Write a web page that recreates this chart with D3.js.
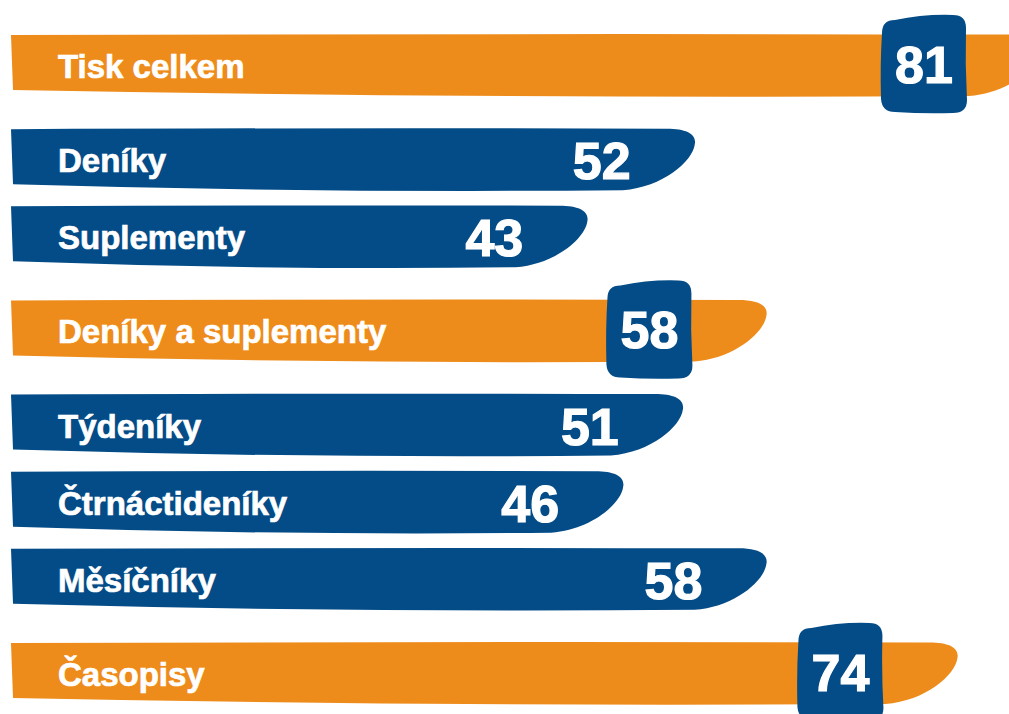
<!DOCTYPE html>
<html>
<head>
<meta charset="utf-8">
<script src="https://cdn.jsdelivr.net/npm/d3@7/dist/d3.min.js"></script>
<style>
  html, body { margin: 0; padding: 0; background: #ffffff; overflow: hidden; }
  svg { display: block; }
</style>
</head>
<body>
<svg id="chart" width="1009" height="714"></svg>
<script>
// ---- data ----
const categories = ["Tisk celkem", "Deníky", "Suplementy", "Deníky a suplementy",
                    "Týdeníky", "Čtrnáctideníky", "Měsíčníky", "Časopisy"];
const values = [81, 52, 43, 58, 51, 46, 58, 74];
const isTotal = [true, false, false, true, false, false, false, true];

// ---- style ----
const BLUE = "#044C87";
const ORANGE = "#EE8C1B";
const FONT = "'Liberation Sans', Arial, sans-serif";

const svg = d3.select("#chart");

// vertical slots: rows next to a total row get a wider gap
const slot = [0];
for (let i = 1; i < categories.length; i++) {
  slot.push(slot[i - 1] + ((isTotal[i] || isTotal[i - 1]) ? 1.22 : 1));
}
const y = d3.scaleLinear().domain([0, slot[slot.length - 1]]).range([35, 643]);
const x = d3.scaleLinear().domain([0, 81]).range([74, 1041]);

const rows = categories.map((c, i) => ({ cat: c, val: values[i], total: isTotal[i], top: y(slot[i]) }));

function barPath(t, L) {
  const x0 = 11;
  return `M${x0},${t}` +
    ` Q${(x0 + L) / 2},${t - 1.5} ${L - 28},${t - 0.5}` +
    ` C${L - 8},${t - 0.5} ${L + 2},${t + 5} ${L},${t + 15}` +
    ` C${L - 2},${t + 32} ${L - 32},${t + 58} ${L - 72},${t + 61}` +
    ` Q${(L - 72 + x0) / 2},${t + 64} ${x0 + 2},${t + 55}` +
    ` Z`;
}

function badgePath(cx, top, bot) {
  const l = cx - 42, r = cx + 42, rr = 13;
  return `M${l + rr},${top + 5}` +
    ` Q${cx},${top - 1} ${r - rr},${top}` +
    ` Q${r},${top} ${r},${top + rr}` +
    ` Q${r - 1},${(top + bot) / 2} ${r + 1},${bot - rr}` +
    ` Q${r + 1},${bot} ${r - rr},${bot}` +
    ` Q${cx},${bot + 1} ${l + rr},${bot - 1}` +
    ` Q${l},${bot - 1} ${l - 1},${bot - rr - 1}` +
    ` Q${l - 2},${(top + bot) / 2} ${l},${top + rr + 5}` +
    ` Q${l},${top + 5} ${l + rr},${top + 5} Z`;
}

const g = svg.selectAll("g.row").data(rows).join("g").attr("class", "row");

g.append("path")
  .attr("d", d => barPath(d.top, x(d.val)))
  .attr("fill", d => d.total ? ORANGE : BLUE);

g.append("text")
  .attr("x", 58)
  .attr("y", d => d.top + 43)
  .attr("fill", "#ffffff")
  .attr("stroke", "#ffffff")
  .attr("stroke-width", 0.7)
  .attr("font-family", FONT)
  .attr("font-weight", "bold")
  .attr("font-size", 33)
  .text(d => d.cat);

// blue rows: value inside the bar
g.filter(d => !d.total).append("text")
  .attr("x", d => x(d.val) - 93)
  .attr("y", d => d.top + 50)
  .attr("text-anchor", "middle")
  .attr("fill", "#ffffff")
  .attr("stroke", "#ffffff")
  .attr("stroke-width", 1.2)
  .attr("font-family", FONT)
  .attr("font-weight", "bold")
  .attr("font-size", 52)
  .text(d => d.val);

// total rows: value in a blue badge
const tot = g.filter(d => d.total);
tot.append("path")
  .attr("d", d => badgePath(x(d.val) - 117, d.top - 20, d.top + 78))
  .attr("fill", BLUE);
tot.append("text")
  .attr("x", d => x(d.val) - 117)
  .attr("y", d => d.top + 48)
  .attr("text-anchor", "middle")
  .attr("fill", "#ffffff")
  .attr("stroke", "#ffffff")
  .attr("stroke-width", 1.2)
  .attr("font-family", FONT)
  .attr("font-weight", "bold")
  .attr("font-size", 52)
  .text(d => d.val);
</script>
</body>
</html>
